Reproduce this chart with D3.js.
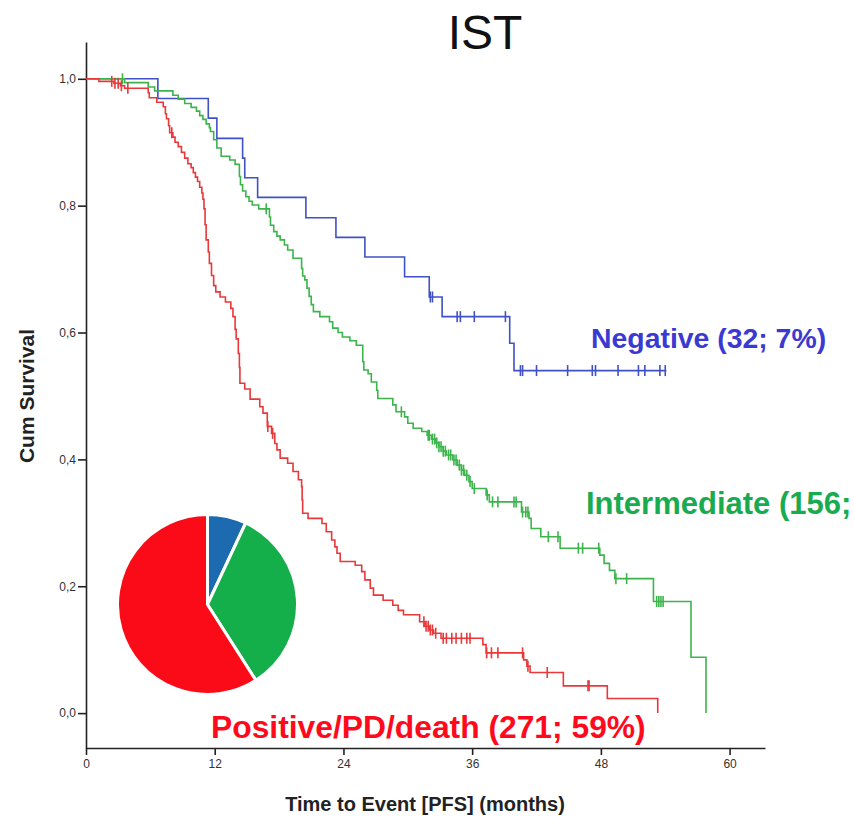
<!DOCTYPE html>
<html>
	<head>
		<meta charset="utf-8">
		<title>IST - Kaplan-Meier PFS</title>
		<script src="https://d3js.org/d3.v7.min.js"></script>
		<style type="text/css">
			body { margin: 0; background: #fff; }
			.axis path, .axis line { fill: none; stroke: #222; stroke-width: 1.6; }
			.axis text { font-family: "Liberation Sans", Arial, sans-serif; font-size: 12px; fill: #333; }
		</style>
	</head>
	<body>
		<script type="text/javascript">

			// Negative (32)
			var negTimes = [0, 6.7, 11.4, 12.2, 14.6, 14.8, 16.0, 20.5, 23.3, 26.0, 29.7, 32.0, 33.2, 39.5, 39.9];
			var negSurv  = [1, 0.969, 0.938, 0.906, 0.875, 0.844, 0.813, 0.781, 0.750, 0.719, 0.688, 0.656, 0.625, 0.583, 0.540];
			var negEnd = 54.1;
			var negCensored = [32.1, 32.3, 34.6, 34.9, 36.2, 39.1, 40.5, 40.7, 42.0, 44.9, 47.2, 47.5, 49.6, 51.5, 52.1, 53.5, 54.0];

			// Intermediate (156)
			var intTimes = [0, 3.6, 5.8, 6.4, 8.1, 8.6, 9.2, 9.8, 10.3, 10.6, 10.9, 11.2, 11.5, 11.6, 11.9, 12.2, 12.6,
				13.4, 13.9, 14.3, 14.4, 14.6, 14.9, 15.2, 15.5, 16.1, 17.1, 17.2, 17.5, 17.8, 18.1, 18.5, 18.8, 19.3,
				20.1, 20.2, 20.4, 20.6, 20.8, 21.0, 21.2, 21.8, 22.7, 23.0, 23.5, 23.9, 24.6, 25.2, 25.8, 25.9, 26.3,
				26.6, 27.1, 27.2, 28.6, 28.9, 29.7, 30.0, 30.5, 31.3, 31.8, 32.2, 32.6, 32.9, 33.3, 33.6, 34.2, 34.6,
				35.0, 35.3, 35.7, 36.0, 37.3, 37.6, 40.6, 41.3, 41.5, 42.4, 44.2, 47.9, 48.3, 48.8, 49.3, 52.9, 56.4, 57.8];
			var intSurv = [1, 0.994, 0.987, 0.981, 0.974, 0.968, 0.961, 0.955, 0.949, 0.942, 0.936, 0.929, 0.923, 0.917,
				0.904, 0.891, 0.878, 0.872, 0.865, 0.846, 0.833, 0.823, 0.814, 0.807, 0.801, 0.795, 0.782, 0.769, 0.759,
				0.752, 0.746, 0.738, 0.730, 0.717, 0.701, 0.689, 0.683, 0.670, 0.657, 0.644, 0.633, 0.625, 0.617, 0.607,
				0.600, 0.593, 0.587, 0.580, 0.554, 0.541, 0.535, 0.522, 0.509, 0.496, 0.486, 0.475, 0.467, 0.457, 0.449,
				0.444, 0.438, 0.432, 0.426, 0.420, 0.413, 0.407, 0.399, 0.391, 0.383, 0.375, 0.365, 0.354, 0.344, 0.333,
				0.317, 0.307, 0.291, 0.278, 0.260, 0.249, 0.236, 0.225, 0.212, 0.176, 0.088, 0];
			var intEnd = 57.8;
			var intCensored = [3.4, 16.8, 29.4, 31.9, 32.0, 32.3, 32.5, 32.7, 32.9, 33.1, 33.3, 33.5, 33.8, 34.0, 34.3,
				34.5, 34.8, 35.0, 35.2, 35.5, 35.8, 36.2, 37.4, 37.9, 38.4, 39.9, 40.1, 40.7, 41.0, 41.2, 43.1, 44.0,
				45.9, 46.3, 47.8, 49.4, 50.4, 53.2, 53.4, 53.6, 53.8];

			// Positive/PD/death (271)
			var posTimes = [0, 1.2, 2.6, 3.2, 3.6, 5.8, 5.9, 6.6, 7.2, 7.4, 7.5, 7.7, 7.8, 8.1, 8.3, 8.6, 8.9, 9.2, 9.5,
				9.8, 10.0, 10.2, 10.4, 10.6, 10.8, 10.9, 11.0, 11.1, 11.2, 11.4, 11.5, 11.7, 11.9, 12.1, 12.5, 13.0, 13.5,
				13.7, 13.9, 14.0, 14.2, 14.3, 14.35, 14.8, 15.3, 16.2, 16.5, 16.9, 17.3, 17.6, 17.8, 18.1, 18.8, 19.3,
				19.8, 20.1, 20.15, 20.2, 20.7, 22.0, 22.4, 22.9, 23.2, 23.4, 23.7, 25.1, 25.7, 26.0, 26.5, 26.8, 27.7,
				28.6, 29.1, 29.6, 31.1, 31.6, 32.0, 32.4, 33.1, 37.0, 37.3, 40.8, 41.1, 41.4, 44.5, 48.6, 53.3];
			var posSurv = [1, 0.996, 0.993, 0.989, 0.985, 0.978, 0.970, 0.963, 0.956, 0.945, 0.937, 0.926, 0.915, 0.908,
				0.900, 0.893, 0.884, 0.875, 0.866, 0.860, 0.852, 0.845, 0.838, 0.829, 0.820, 0.810, 0.795, 0.770, 0.746,
				0.727, 0.709, 0.690, 0.674, 0.664, 0.656, 0.648, 0.638, 0.625, 0.605, 0.590, 0.567, 0.545, 0.520, 0.511,
				0.495, 0.483, 0.473, 0.452, 0.441, 0.425, 0.415, 0.402, 0.394, 0.381, 0.368, 0.357, 0.336, 0.315, 0.307,
				0.299, 0.286, 0.273, 0.262, 0.252, 0.239, 0.233, 0.223, 0.210, 0.197, 0.186, 0.178, 0.170, 0.162, 0.155,
				0.144, 0.137, 0.131, 0.126, 0.118, 0.108, 0.095, 0.084, 0.074, 0.064, 0.043, 0.023, 0];
			var posEnd = 53.3;
			var posCensored = [2.4, 2.7, 3.0, 3.3, 3.9, 8.0, 16.95, 17.4, 31.5, 31.7, 31.9, 32.1, 32.3, 32.6, 33.3, 33.6,
				34.1, 34.5, 35.0, 35.5, 35.8, 37.35, 37.8, 38.4, 40.7, 41.2, 43.0, 46.8, 46.9];

			// Pie: patients per group
			var groupNames = ["Negative", "Intermediate", "Positive/PD/death"];
			var groupCounts = [32, 156, 271];

			var xTicks = [0, 12, 24, 36, 48, 60];
			var yTicks = [0, 0.2, 0.4, 0.6, 0.8, 1.0];

			var svgWidth = 854;
			var svgHeight = 820;

			var lineColors = ["#3f51c4", "#3cb44b", "#e8383a"];
			var textColors = ["#3a3ad2", "#19ab4f", "#ff0a1c"];
			var pieColors = ["#1c6bb0", "#14ae4a", "#fb0b17"];

			var xScale = d3.scaleLinear().domain([0, 63.3]).range([86, 765]);
			var yScale = d3.scaleLinear().domain([-0.055, 1.058]).range([748, 42]);

			var svg = d3.select("body").append("svg")
				.attr("width", svgWidth)
				.attr("height", svgHeight);

			//Title
			svg.append("text")
				.attr("x", 485).attr("y", 49)
				.attr("text-anchor", "middle")
				.attr("font-family", "Liberation Sans, Arial, sans-serif")
				.attr("font-size", "48px")
				.attr("fill", "#111")
				.text("IST");

			//Axes
			var xAxis = d3.axisBottom(xScale).tickValues(xTicks).tickSize(7).tickSizeOuter(0).tickPadding(4);
			var yAxis = d3.axisLeft(yScale).tickValues(yTicks).tickSize(8).tickSizeOuter(0).tickPadding(2)
				.tickFormat(function(d) { return d3.format(".1f")(d).replace(".", ","); });

			svg.append("g").attr("class", "axis")
				.attr("transform", "translate(0," + yScale.range()[0] + ")")
				.call(xAxis);
			svg.append("g").attr("class", "axis")
				.attr("transform", "translate(" + xScale.range()[0] + ",0)")
				.call(yAxis);

			//Axis titles
			svg.append("text")
				.attr("x", 425).attr("y", 811)
				.attr("text-anchor", "middle")
				.attr("font-family", "Liberation Sans, Arial, sans-serif")
				.attr("font-weight", "bold")
				.attr("font-size", "20px")
				.attr("fill", "#222")
				.text("Time to Event [PFS] (months)");
			svg.append("text")
				.attr("transform", "translate(34,396) rotate(-90)")
				.attr("text-anchor", "middle")
				.attr("font-family", "Liberation Sans, Arial, sans-serif")
				.attr("font-weight", "bold")
				.attr("font-size", "21px")
				.attr("fill", "#222")
				.text("Cum Survival");

			//Pie
			var pie = d3.pie().sort(null)(groupCounts);
			var arc = d3.arc().innerRadius(0).outerRadius(90);
			svg.append("g")
				.attr("transform", "translate(207.5,604.5)")
				.selectAll("path")
				.data(pie)
				.enter()
				.append("path")
				.attr("d", arc)
				.attr("fill", function(d, i) { return pieColors[i]; })
				.attr("stroke", "#fff")
				.attr("stroke-width", 3);

			//Curves
			var series = [
				{ times: negTimes, surv: negSurv, end: negEnd, cens: negCensored },
				{ times: intTimes, surv: intSurv, end: intEnd, cens: intCensored },
				{ times: posTimes, surv: posSurv, end: posEnd, cens: posCensored }
			];

			var stepLine = d3.line()
				.x(function(d) { return xScale(d[0]); })
				.y(function(d) { return yScale(d[1]); })
				.curve(d3.curveStepAfter);

			function survAt(s, t) {
				var i = d3.bisectRight(s.times, t) - 1;
				return s.surv[Math.max(0, i)];
			}

			series.forEach(function(s, k) {
				var pts = s.times.map(function(t, i) { return [t, s.surv[i]]; });
				pts.push([s.end, s.surv[s.surv.length - 1]]);
				var g = svg.append("g");
				g.append("path")
					.attr("d", stepLine(pts))
					.attr("fill", "none")
					.attr("stroke", lineColors[k])
					.attr("stroke-width", 1.6);
				g.selectAll("line")
					.data(s.cens)
					.enter()
					.append("line")
					.attr("x1", function(d) { return xScale(d); })
					.attr("x2", function(d) { return xScale(d); })
					.attr("y1", function(d) { return yScale(survAt(s, d)) - 5.5; })
					.attr("y2", function(d) { return yScale(survAt(s, d)) + 5.5; })
					.attr("stroke", lineColors[k])
					.attr("stroke-width", 1.6);
			});

			//Group labels (the Intermediate one runs past the right edge, as in the original)
			var total = d3.sum(groupCounts);
			var labelPos = [[591, 348], [586, 514], [211, 738]];
			var labelSize = [28.4, 31, 31.8];
			groupNames.forEach(function(name, i) {
				svg.append("text")
					.attr("x", labelPos[i][0]).attr("y", labelPos[i][1])
					.attr("font-family", "Liberation Sans, Arial, sans-serif")
					.attr("font-weight", "bold")
					.attr("font-size", labelSize[i] + "px")
					.attr("fill", textColors[i])
					.text(name + " (" + groupCounts[i] + "; " + Math.round(groupCounts[i] / total * 100) + "%)");
			});

		</script>
	</body>
</html>
